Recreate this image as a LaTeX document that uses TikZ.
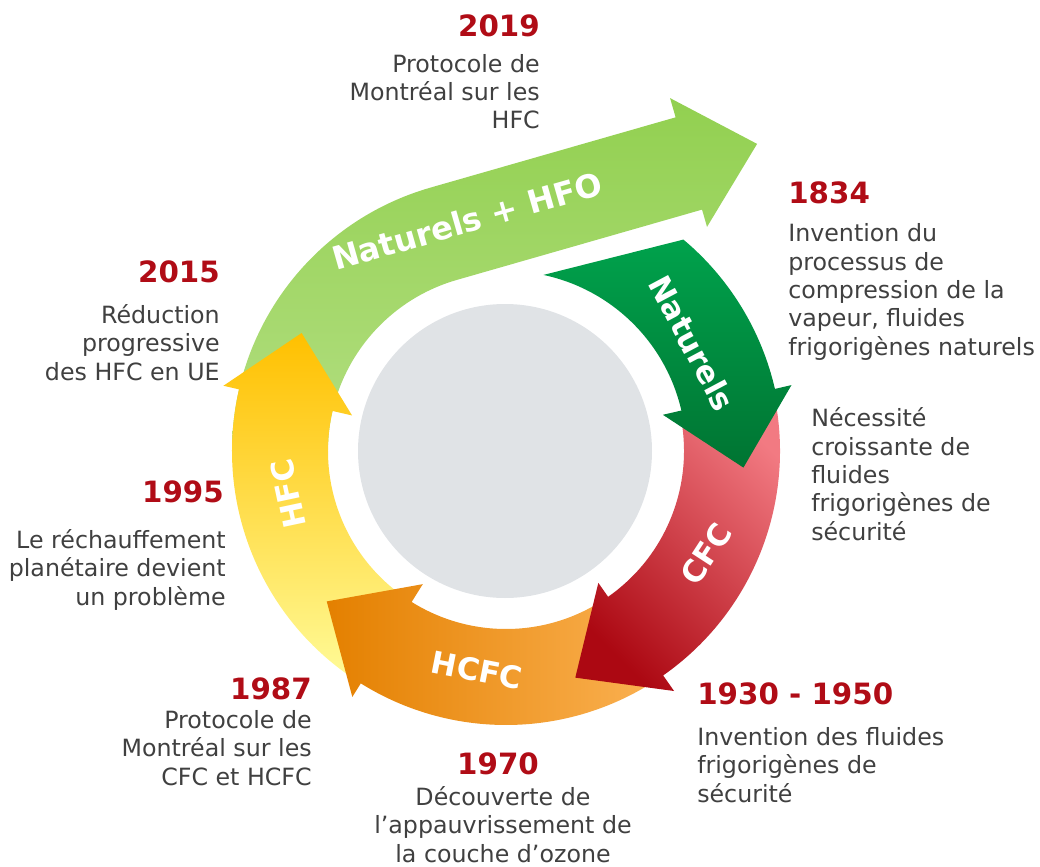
\documentclass[tikz,border=0pt]{standalone}
\usepackage{fontspec}
\setmainfont{DejaVu Sans}
\usetikzlibrary{calc}
\definecolor{yr}{RGB}{176,12,22}
\definecolor{bd}{RGB}{64,64,64}
\definecolor{lgA}{RGB}{146,208,80}
\definecolor{lgB}{RGB}{178,222,128}
\definecolor{yeA}{RGB}{255,192,0}
\definecolor{yeB}{RGB}{255,250,150}
\definecolor{orA}{RGB}{228,128,0}
\definecolor{orB}{RGB}{250,176,80}
\definecolor{rdA}{RGB}{242,122,130}
\definecolor{rdB}{RGB}{172,8,18}
\definecolor{dgA}{RGB}{0,162,76}
\definecolor{dgB}{RGB}{0,116,50}
\definecolor{grayc}{RGB}{224,227,230}
\tikzset{
  year/.style={font=\fontsize{22}{26}\selectfont\bfseries, text=yr, inner sep=0pt},
  body/.style={font=\fontsize{17.8}{21.2}\selectfont, text=bd, inner sep=0pt},
  lbl/.style={font=\fontsize{23}{27}\selectfont\bfseries, text=white, inner sep=0pt},
}
\begin{document}
\begin{tikzpicture}[x=0.75pt,y=-0.75pt]
\useasboundingbox (0,0) rectangle (1040,867);
\coordinate (C) at (506,451);
% central disc
\fill[grayc] (505,451) circle[radius=147];
% big arrow Naturels + HFO
\coordinate (To) at ($(C)+(-106:274)$);
\coordinate (Ti) at ($(C)+(-106:178)$);
\coordinate (Eo) at ($(To)+(-16:255)$);
\coordinate (Ei) at ($(Ti)+(-16:255)$);
\coordinate (Bo) at ($(Eo)+(-106:20)$);
\coordinate (Bi) at ($(Ei)+(74:18)$);
\coordinate (Tp) at ($(Eo)!0.5!(Ei)+(-16:71)$);
\shade[top color=lgA, bottom color=lgB]
  ($(C)+(-178:274)$) arc[start angle=-178,end angle=-106,radius=274]
  -- (Eo) -- (Bo) -- (Tp) -- (Bi) -- (Ei) -- (Ti)
  arc[start angle=-106,end angle=-178,radius=178] -- cycle;
% HFC (yellow)
\shade[top color=yeA, bottom color=yeB]
  ($(C)+(-235:274)$) arc[start angle=-235,end angle=-167,radius=274]
  -- ($(C)+(-167:290)$) -- ($(C)+(-150:236)$) -- ($(C)+(-167:158)$)
  -- ($(C)+(-167:178)$) arc[start angle=-167,end angle=-235,radius=178] -- cycle;
% HCFC (orange)
\shade[left color=orA, right color=orB]
  ($(C)+(58:274)$) arc[start angle=58,end angle=122,radius=274]
  -- ($(C)+(122:290)$) -- ($(C)+(140:234)$) -- ($(C)+(122:157)$)
  -- ($(C)+(122:178)$) arc[start angle=122,end angle=58,radius=178] -- cycle;
% CFC (red)
\shade[top color=rdA, bottom color=rdB, shading angle=-45]
  ($(C)+(-11:274)$) arc[start angle=-11,end angle=55,radius=274]
  -- ($(C)+(55:293)$) -- ($(C)+(73:237)$) -- ($(C)+(55:161)$)
  -- ($(C)+(55:178)$) arc[start angle=55,end angle=-11,radius=178] -- cycle;
% Naturels (dark green)
\shade[top color=dgA, bottom color=dgB]
  ($(C)+(-50:276)$) arc[start angle=-50,end angle=-13,radius=276]
  -- ($(C)+(-13:293)$) -- ($(C)+(4:238)$) -- ($(C)+(-13:161)$)
  -- ($(C)+(-13:180)$) arc[start angle=-13,end angle=-78,radius=180] -- cycle;
% arrow labels
\node[lbl, font=\fontsize{24}{28}\selectfont\bfseries, rotate=16] (lNH) at (467,221) {Naturels + HFO};
\node[lbl, rotate=-62] (lN) at (692,343) {Naturels};
\node[lbl, rotate=57] (lCFC) at (706,554) {CFC};
\node[lbl, rotate=-11] (lHCFC) at (477,670) {HCFC};
\node[lbl, rotate=102] (lHFC) at (288,494) {HFC};
% dates and texts (multi-line nodes anchored at the baseline of their last line)
\node[year, anchor=base east] (y2019) at (540,37) {2019};
\node[body, anchor=base east, align=right] (t2019) at (540,129) {Protocole de\\Montréal sur les\\HFC};
\node[year, anchor=base east] (y2015) at (220,282) {2015};
\node[body, anchor=base east, align=right] (t2015) at (220,380) {Réduction\\progressive\\des HFC en UE};
\node[year, anchor=base east] (y1995) at (224,502) {1995};
\node[body, anchor=base east, align=right] (t1995) at (226,605) {Le réchauffement\\planétaire devient\\un problème};
\node[year, anchor=base west] (y1834) at (788,204) {1834};
\node[body, anchor=base west, align=left] (t1834) at (788,355) {Invention du\\processus de\\compression de la\\vapeur, fluides\\frigorigènes naturels};
\node[body, anchor=base west, align=left] (tsec) at (811,540) {Nécessité\\croissante de\\fluides\\frigorigènes de\\sécurité};
\node[year, anchor=base west] (y1930) at (697,704) {1930 - 1950};
\node[body, anchor=base west, align=left] (t1930) at (697,802) {Invention des fluides\\frigorigènes de\\sécurité};
\node[year, anchor=base] (y1970) at (498,774) {1970};
\node[body, anchor=base, align=center] (t1970) at (503,862) {Découverte de\\l’appauvrissement de\\la couche d’ozone};
\node[year, anchor=base east] (y1987) at (312,699) {1987};
\node[body, anchor=base east, align=right] (t1987) at (312,785) {Protocole de\\Montréal sur les\\CFC et HCFC};
\end{tikzpicture}
\end{document}
